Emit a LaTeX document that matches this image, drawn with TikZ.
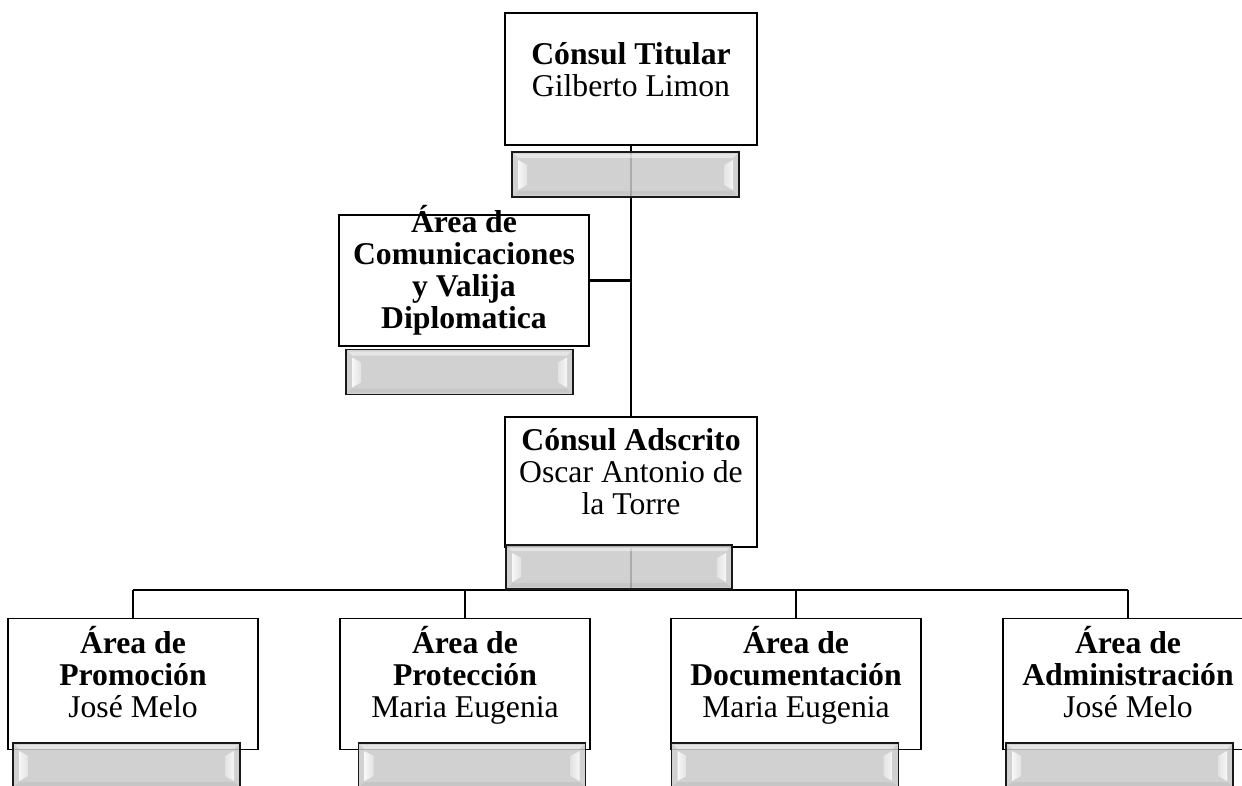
\documentclass[tikz,border=0pt]{standalone}
\usepackage{fontspec}
\setmainfont{Liberation Serif}
\newcommand{\lineas}[1]{\begin{tabular}[t]{@{}c@{}}#1\end{tabular}}
\tikzset{
  orgbox/.style={draw=black, line width=1.8pt, fill=white, minimum width=250pt, minimum height=131pt, inner sep=0pt},
  orgtxt/.style={anchor=base, inner sep=0pt, font=\fontsize{31.7}{32}\selectfont},
  link/.style={draw=black, line width=2.6pt},
  bevelbar/.style={draw=black!90, line width=1.4pt, fill=gray!42, fill opacity=0.85,
    minimum width=227pt, minimum height=45pt, inner sep=0pt,
    path picture={
      \fill[white, fill opacity=0.45] ([shift={(2pt,-2pt)}]path picture bounding box.north west) -- ([shift={(-2pt,-2pt)}]path picture bounding box.north east) -- ([shift={(-6pt,-6pt)}]path picture bounding box.north east) -- ([shift={(6pt,-6pt)}]path picture bounding box.north west) -- cycle;
      \fill[black, fill opacity=0.05] ([shift={(2pt,2pt)}]path picture bounding box.south west) -- ([shift={(-2pt,2pt)}]path picture bounding box.south east) -- ([shift={(-6pt,6pt)}]path picture bounding box.south east) -- ([shift={(6pt,6pt)}]path picture bounding box.south west) -- cycle;
      \shade[left color=white, right color=gray!20] ([shift={(6pt,-8pt)}]path picture bounding box.north west) -- ([shift={(15pt,-13pt)}]path picture bounding box.north west) -- ([shift={(15pt,12pt)}]path picture bounding box.south west) -- ([shift={(6pt,7pt)}]path picture bounding box.south west) -- cycle;
      \shade[right color=white, left color=gray!20] ([shift={(-6pt,-8pt)}]path picture bounding box.north east) -- ([shift={(-15pt,-13pt)}]path picture bounding box.north east) -- ([shift={(-15pt,12pt)}]path picture bounding box.south east) -- ([shift={(-6pt,7pt)}]path picture bounding box.south east) -- cycle;
    }},
}
\begin{document}
\begin{tikzpicture}[x=1pt,y=1pt] %Organigrama del consulado
            \useasboundingbox (0,0) rectangle (1242,-786);
            \clip (0,0) rectangle (1242,-786);

            \node[orgbox, minimum width=252pt, minimum height=132pt] (titular) at (631,-79) {};
            \node[orgbox] (comunic) at (464,-280.5) {};
            \node[orgbox, minimum width=252pt, minimum height=130pt] (adscrito) at (631,-482) {};
            \node[orgbox] (promocion) at (133,-684) {};
            \node[orgbox] (proteccion) at (465,-684) {};
            \node[orgbox] (documentacion) at (796,-684) {};
            \node[orgbox] (administracion) at (1128,-684) {};

            \coordinate (split) at (631,-590);
            \draw[link] (titular.south) -- (adscrito.north);
            \draw[link] (comunic.east) -- (comunic.east -| titular.south);
            \draw[link] (adscrito.south) -- (split);
            \draw[link] (promocion.north |- split) -- (administracion.north |- split);
            \foreach \n in {promocion,proteccion,documentacion,administracion}
                \draw[link] (\n.north |- split) -- (\n.north);

            \node[bevelbar] (titular-bar) at (625.5,-174.5) {};
            \node[bevelbar] (comunic-bar) at (459.5,-372) {};
            \node[bevelbar, minimum width=226pt, minimum height=44pt] (adscrito-bar) at (619,-567) {};
            \node[bevelbar] (promocion-bar) at (126.5,-765.5) {};
            \node[bevelbar] (proteccion-bar) at (472,-765.5) {};
            \node[bevelbar] (documentacion-bar) at (785,-765.5) {};
            \node[bevelbar] (administracion-bar) at (1119.5,-765.5) {};

            \node[orgtxt] (titular-txt) at (631,-65) {\lineas{\textbf{Cónsul Titular}\\Gilberto Limon}};
            \node[orgtxt] (comunic-txt) at (464,-233) {\lineas{\textbf{Área de}\\\textbf{Comunicaciones}\\\textbf{y Valija}\\\textbf{Diplomatica}}};
            \node[orgtxt] (adscrito-txt) at (631,-450) {\lineas{\textbf{Cónsul Adscrito}\\Oscar Antonio de\\la Torre}};
            \node[orgtxt] (promocion-txt) at (133,-653) {\lineas{\textbf{Área de}\\\textbf{Promoción}\\José Melo}};
            \node[orgtxt] (proteccion-txt) at (465,-653) {\lineas{\textbf{Área de}\\\textbf{Protección}\\Maria Eugenia}};
            \node[orgtxt] (documentacion-txt) at (796,-653) {\lineas{\textbf{Área de}\\\textbf{Documentación}\\Maria Eugenia}};
            \node[orgtxt] (administracion-txt) at (1128,-653) {\lineas{\textbf{Área de}\\\textbf{Administración}\\José Melo}};
        \end{tikzpicture}
\end{document}
